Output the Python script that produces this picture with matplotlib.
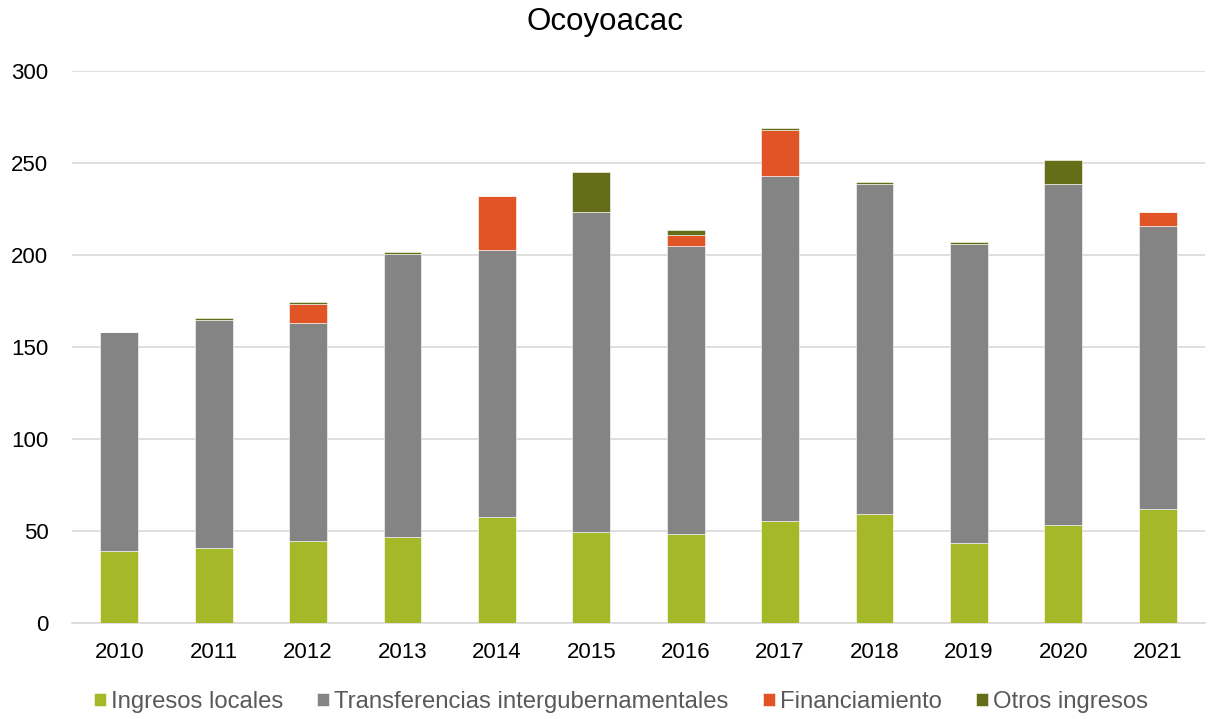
import matplotlib
matplotlib.use("Agg")
import matplotlib.pyplot as plt
import numpy as np

# datos (millones de pesos)
years = ['2010', '2011', '2012', '2013', '2014', '2015',
         '2016', '2017', '2018', '2019', '2020', '2021']
ingresos_locales = [39.0, 41.0, 44.5, 46.5, 57.5, 49.5, 48.5, 55.5, 59.5, 43.5, 53.0, 62.0]
transferencias = [119.0, 123.5, 118.8, 154.0, 145.0, 173.8, 156.2, 187.4, 179.2, 162.7, 185.7, 153.6]
financiamiento = [0.0, 0.0, 9.8, 0.0, 29.3, 0.0, 6.4, 25.1, 0.0, 0.0, 0.0, 7.8]
otros_ingresos = [0.0, 1.0, 1.1, 0.9, 0.0, 21.6, 2.4, 0.9, 0.9, 0.9, 12.9, 0.0]

series = [
    ('Ingresos locales', ingresos_locales, '#A5B828'),
    ('Transferencias intergubernamentales', transferencias, '#848484'),
    ('Financiamiento', financiamiento, '#E05426'),
    ('Otros ingresos', otros_ingresos, '#646E18'),
]

plt.rcParams['font.family'] = ['Liberation Sans', 'DejaVu Sans']

fig = plt.figure(figsize=(12.11, 7.19), dpi=100)
ax = fig.add_axes([72 / 1211, 1 - 623 / 719, 1133 / 1211, 552 / 719])

x = np.arange(len(years))
bottom = np.zeros(len(years))
for name, vals, col in series:
    vals = np.array(vals)
    ax.bar(x, vals, width=0.4, bottom=bottom, color=col, label=name,
           edgecolor='white', linewidth=0.4, zorder=3)
    bottom += vals

ax.set_xlim(-0.5, len(years) - 0.5)
ax.set_ylim(0, 300)
ax.set_yticks([0, 50, 100, 150, 200, 250, 300])
ax.set_xticks(x)
ax.set_xticklabels(years)
ax.tick_params(axis='both', length=0, labelsize=16, colors='black')
ax.tick_params(axis='y', pad=17)
ax.tick_params(axis='x', pad=14)
ax.grid(axis='y', color='#D9D9D9', linewidth=1.2, zorder=0)
for s in ['top', 'right', 'left']:
    ax.spines[s].set_visible(False)
ax.spines['bottom'].set_color('#D9D9D9')
ax.spines['bottom'].set_linewidth(1.2)

fig.text(0.5, 1 - 22 / 719, 'Ocoyoacac', ha='center', va='center', fontsize=22.5)

leg = fig.legend(loc='center', bbox_to_anchor=(621 / 1211, 1 - 702 / 719), ncol=4,
                 frameon=False, fontsize=17.2, handlelength=0.5, handleheight=0.5,
                 handletextpad=0.2, columnspacing=1.45, borderpad=0)
for t in leg.get_texts():
    t.set_color('#595959')

fig.savefig('out.png', dpi=100)
